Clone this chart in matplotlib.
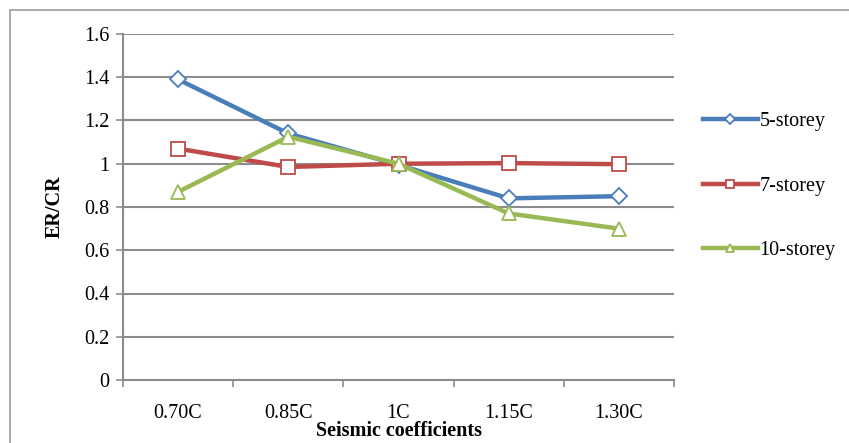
import matplotlib
matplotlib.use("Agg")
import matplotlib.pyplot as plt
import matplotlib.patches as mpatches
import numpy as np

## Data
categories = ["0.70C", "0.85C", "1C", "1.15C", "1.30C"]
storey5  = [1.39, 1.14, 0.995, 0.84, 0.85]
storey7  = [1.07, 0.985, 1.00, 1.003, 0.998]
storey10 = [0.87, 1.125, 1.00, 0.77, 0.70]

## Style
plt.rcParams['font.family'] = ['Liberation Serif', 'DejaVu Serif']
plt.rcParams['font.size'] = 14.5
grey = "#8c8c8c"

fig = plt.figure( figsize = (8.49,4.43) , dpi = 100 )
ax  = fig.add_axes( [123/849 , 1-380/443 , (674-123)/849 , (380-34)/443] )

x = np.arange(len(categories))
series = [
	( storey5  , "5-storey"  , "#4a7ebb" , "D" , 8 ),
	( storey7  , "7-storey"  , "#be4b48" , "s" , 10 ),
	( storey10 , "10-storey" , "#98b954" , "^" , 10 ),
]
for vals,lab,col,mk,ms in series:
	ax.plot( x , vals , color = col , lw = 3.2 , marker = mk , ms = ms ,
		markerfacecolor = "white" , markeredgecolor = col , markeredgewidth = 1.3 ,
		label = lab , zorder = 3 )

## Axes
ax.set_xlim( -0.5 , 4.5 )
ax.set_ylim( 0 , 1.6 )
ax.set_yticks( np.arange(0,1.61,0.2) )
ax.set_yticklabels( ["0","0.2","0.4","0.6","0.8","1","1.2","1.4","1.6"] )
ax.yaxis.grid( True , color = grey , lw = 1.5 , zorder = 0 )

ax.set_xticks( np.arange(-0.5,4.6,1) )
ax.set_xticklabels( [] )
ax.set_xticks( x , minor = True )
ax.set_xticklabels( categories , minor = True )
ax.tick_params( axis = "x" , which = "major" , length = 5 , color = grey , width = 1.2 )
ax.tick_params( axis = "x" , which = "minor" , length = 0 , pad = 17 )
ax.tick_params( axis = "y" , length = 5 , color = grey , width = 1.2 , pad = 5 )

for s in ["top","right"]:
	ax.spines[s].set_visible(False)
for s in ["left","bottom"]:
	ax.spines[s].set_color(grey)
	ax.spines[s].set_linewidth(1.5)

ax.set_ylabel( "ER/CR" , fontweight = "bold" , labelpad = 14 )
ax.set_xlabel( "Seismic coefficients" , fontweight = "bold" , labelpad = -1 )

## Legend
fig.legend( loc = "center left" , bbox_to_anchor = (685/849 , 1-186/443) , frameon = False ,
	handlelength = 2.7 , handletextpad = 0.1 , labelspacing = 2.25 , markerscale = 0.6 )

## Outer frame
fig.patches.append( mpatches.Rectangle( (10/849 , -0.1) , 1.0 , 1.1-10/443 ,
	transform = fig.transFigure , fill = False , edgecolor = "#999999" , lw = 1.2 ) )

plt.savefig( "out.png" , dpi = 100 )
plt.close(fig)
